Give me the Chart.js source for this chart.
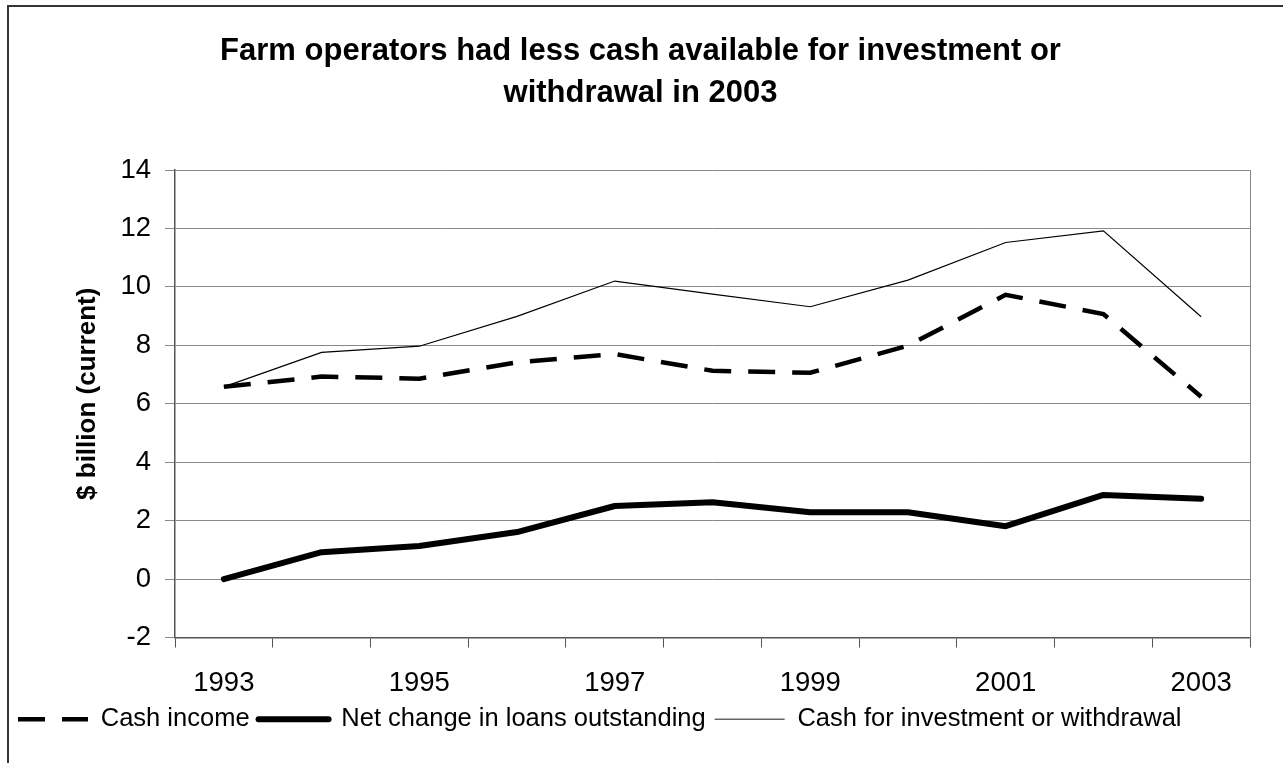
<!DOCTYPE html>
<html><head><meta charset="utf-8">
<script src="https://cdn.jsdelivr.net/npm/chart.js@4.4.1/dist/chart.umd.min.js"></script>
<style>html,body{margin:0;padding:0;background:#fff}#wrap{width:1283px;height:763px;position:relative}</style>
</head><body><div id="wrap"><canvas id="c"></canvas></div>
<script>
const years = ['1993','1994','1995','1996','1997','1998','1999','2000','2001','2002','2003'];
const cashIncome = [6.58, 6.93, 6.86, 7.42, 7.70, 7.13, 7.06, 7.99, 9.73, 9.07, 6.24];
const netLoans = [0.00, 0.92, 1.13, 1.61, 2.50, 2.63, 2.29, 2.29, 1.81, 2.88, 2.75];
const cashInvest = [6.58, 7.76, 7.97, 8.99, 10.20, 9.75, 9.32, 10.23, 11.52, 11.92, 8.98];
const titleLines = ['Farm operators had less cash available for investment or', 'withdrawal in 2003'];
const yTitle = '$ billion (current)';
const seriesNames = ['Cash income', 'Net change in loans outstanding', 'Cash for investment or withdrawal'];
const yMin = -2, yMax = 14, yStep = 2;

const FONT = '"Liberation Sans", Arial, sans-serif';

const framePlugin = {
  id: 'frame',
  afterLayout(chart) {
    // centre the title on the full picture width
    if (chart.titleBlock) { chart.titleBlock.left += 22; }
    const s = chart.scales.y;
    if (s && !s._titlePatched) {
      const orig = s.drawTitle.bind(s);
      s.drawTitle = function () { const b = this.bottom; this.bottom -= 20; orig(); this.bottom = b; };
      s._titlePatched = true;
    }
  },
  beforeDraw(chart) {
    const ctx = chart.ctx;
    ctx.save();
    ctx.fillStyle = '#fff';
    ctx.fillRect(0, 0, chart.width, chart.height);
    ctx.strokeStyle = '#333';
    ctx.lineWidth = 2;
    ctx.beginPath();
    ctx.moveTo(8, chart.height + 2);
    ctx.lineTo(8, 6);
    ctx.lineTo(chart.width + 2, 6);
    ctx.stroke();
    ctx.restore();
  },
  beforeDatasetsDraw(chart) {
    const a = chart.chartArea, ctx = chart.ctx;
    ctx.save();
    ctx.strokeStyle = '#888';
    ctx.lineWidth = 1;
    ctx.beginPath();
    ctx.moveTo(Math.round(a.right) + 0.5, a.top);
    ctx.lineTo(Math.round(a.right) + 0.5, a.bottom);
    ctx.stroke();
    ctx.restore();
  }
};

new Chart(document.getElementById('c'), {
  type: 'line',
  data: {
    labels: years,
    datasets: [
      { label: seriesNames[0], data: cashIncome, borderColor: '#000', backgroundColor: '#000',
        borderWidth: 4.5, borderDash: [27, 17], borderCapStyle: 'butt', pointRadius: 0, tension: 0, fill: false },
      { label: seriesNames[1], data: netLoans, borderColor: '#000', backgroundColor: '#000',
        borderWidth: 6, borderCapStyle: 'round', borderJoinStyle: 'round', pointRadius: 0, tension: 0, fill: false },
      { label: seriesNames[2], data: cashInvest, borderColor: '#000', backgroundColor: '#000',
        borderWidth: 1.2, pointRadius: 0, tension: 0, fill: false }
    ]
  },
  options: {
    responsive: true,
    maintainAspectRatio: false,
    animation: false,
    devicePixelRatio: 1,
    layout: { padding: { left: 9, right: 33, top: 0, bottom: 21 } },
    plugins: {
      tooltip: { enabled: false },
      title: {
        display: true, text: titleLines, color: '#000',
        font: { family: FONT, size: 31, weight: 'bold', lineHeight: 1.36 },
        padding: { top: 30, bottom: 55.7 }
      },
      legend: {
        display: true, position: 'bottom', align: 'start',
        labels: {
          usePointStyle: true, pointStyle: 'line', pointStyleWidth: 70,
          color: '#000', padding: 9,
          font: { family: FONT, size: 25.5 },
          generateLabels(chart) {
            return chart.data.datasets.map((ds, i) => ({
              text: ds.label,
              datasetIndex: i,
              hidden: !chart.isDatasetVisible(i),
              fillStyle: ds.borderColor,
              strokeStyle: i === 2 ? '#666' : ds.borderColor,
              fontColor: '#000',
              lineWidth: i === 2 ? 1.5 : ds.borderWidth,
              lineDash: ds.borderDash || [],
              lineCap: ds.borderCapStyle || 'butt',
              lineJoin: 'round',
              pointStyle: 'line',
              rotation: 0
            }));
          }
        }
      }
    },
    scales: {
      x: {
        type: 'category', offset: true,
        grid: { display: true, offset: true, drawOnChartArea: false, drawTicks: true, tickLength: 10, color: '#555', lineWidth: 1 },
        border: { display: true, color: '#555', width: 1.5 },
        ticks: {
          autoSkip: false, maxRotation: 0, minRotation: 0, color: '#000', padding: 19,
          font: { family: FONT, size: 27.5 },
          callback: function(v, i) { return i % 2 === 0 ? this.getLabelForValue(v) : ''; }
        },
        afterFit(scale) { scale.height = 60; }
      },
      y: {
        min: yMin, max: yMax,
        grid: { color: '#888', lineWidth: 1, drawTicks: true, tickLength: 10 },
        border: { display: true, color: '#555', width: 1.5 },
        ticks: { stepSize: yStep, color: '#000', padding: 14, font: { family: FONT, size: 27.5 } },
        title: { display: true, text: yTitle, color: '#000', padding: { top: 63, bottom: 0 },
          font: { family: FONT, size: 26, weight: 'bold' } },
        afterFit(scale) { scale.width = 166; }
      }
    }
  },
  plugins: [framePlugin]
});
</script></body></html>
